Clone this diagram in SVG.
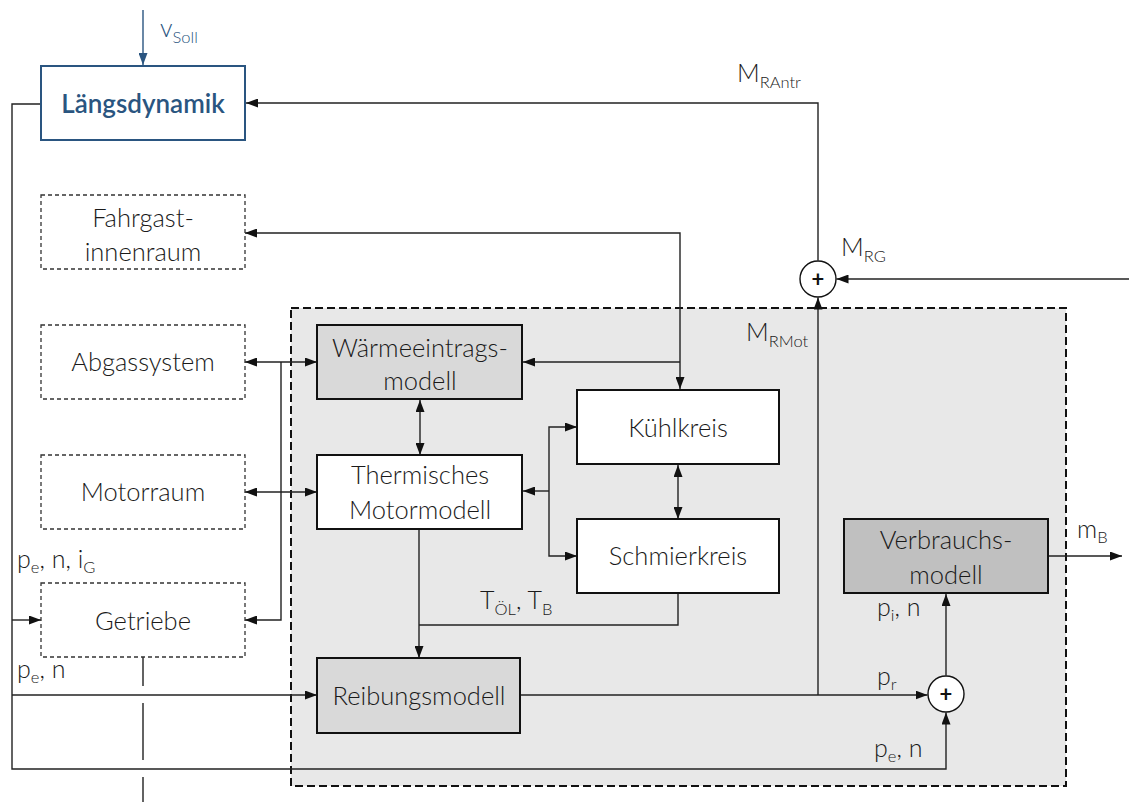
<svg xmlns="http://www.w3.org/2000/svg" width="1129" height="802" viewBox="0 0 1129 802">
<defs>
<marker id="ah" markerUnits="userSpaceOnUse" markerWidth="13" markerHeight="9" refX="12" refY="4.5" orient="auto-start-reverse" viewBox="0 0 13 9"><path d="M0,0 L12,4.5 L0,9 z" fill="#111"/></marker>
<marker id="ahb" markerUnits="userSpaceOnUse" markerWidth="13" markerHeight="9" refX="12" refY="4.5" orient="auto-start-reverse" viewBox="0 0 13 9"><path d="M0,0 L12,4.5 L0,9 z" fill="#2a5580"/></marker>
</defs>
<style>
text{font-family:Lato,"Liberation Sans",sans-serif;font-weight:300;fill:#1a1a1a;font-size:25.5px}
.c{text-anchor:middle}
.lab{font-size:25px}
.sub{font-size:16.5px}
.box{stroke:#111;stroke-width:2}
.dbox{fill:#fff;stroke:#333;stroke-width:1.3;stroke-dasharray:4 3}
.ln{fill:none;stroke:#222;stroke-width:1.4}
.a{marker-end:url(#ah)}
.aa{marker-end:url(#ah);marker-start:url(#ah)}
</style>
<rect id="motor-region" x="291" y="308" width="775" height="478" fill="#e8e8e8" stroke="#111" stroke-width="2" stroke-dasharray="8 4"/>

<g id="connectors">
<path class="ln" d="M143,10 V65" style="stroke:#2a5580;marker-end:url(#ahb)"/>
<path class="ln a" d="M41,104 H12 V769 H946 V712.5"/>
<path class="ln a" d="M12,620 H41"/>
<path class="ln a" d="M12,695 H317"/>
<path class="ln aa" d="M245,362 H317"/>
<path class="ln aa" d="M245,492 H317"/>
<path class="ln a" d="M281,362 V620 H245"/>
<path class="ln aa" d="M680,389 V233 H245"/>
<path class="ln a" d="M680,362 H523"/>
<path class="ln aa" d="M420,400 V455"/>
<path class="ln aa" d="M678,465 V519"/>
<path class="ln aa" d="M577,427 H549 V556 H577"/>
<path class="ln a" d="M549,491 H523"/>
<path class="ln a" d="M419,530 V658"/>
<path class="ln" d="M678,594 V625 H419"/>
<path class="ln a" d="M521,695 H927.5"/>
<path class="ln a" d="M818,695 V297.5"/>
<path class="ln a" d="M1129,279 H836.5"/>
<path class="ln a" d="M818,260.5 V103 H246"/>
<path class="ln a" d="M946,675.5 V594"/>
<path class="ln a" d="M1048,556 H1122"/>
<path class="ln" d="M143,657 V686 M143,703 V760 M143,777 V802"/>
</g>

<g id="laengsdynamik">
<rect x="41" y="66" width="204" height="74" fill="#fff" stroke="#2a5580" stroke-width="2"/>
<text class="c" x="143" y="113" style="fill:#2a5580;font-weight:600;font-size:26px">Längsdynamik</text>
</g>
<g id="fahrgastinnenraum">
<rect class="dbox" x="41" y="195" width="204" height="74"/>
<text class="c" x="143" y="227">Fahrgast-</text>
<text class="c" x="143" y="261">innenraum</text>
</g>
<g id="abgassystem">
<rect class="dbox" x="41" y="325" width="204" height="74"/>
<text class="c" x="143" y="371">Abgassystem</text>
</g>
<g id="motorraum">
<rect class="dbox" x="41" y="455" width="204" height="74"/>
<text class="c" x="143" y="501">Motorraum</text>
</g>
<g id="getriebe">
<rect class="dbox" x="41" y="583" width="204" height="74"/>
<text class="c" x="143" y="630">Getriebe</text>
</g>
<g id="waermeeintragsmodell">
<rect class="box" x="317" y="325" width="205" height="74" fill="#d9d9d9"/>
<text class="c" x="420" y="357">Wärmeeintrags-</text>
<text class="c" x="420" y="390">modell</text>
</g>
<g id="thermisches-motormodell">
<rect class="box" x="317" y="455" width="205" height="74" fill="#fff"/>
<text class="c" x="420" y="484">Thermisches</text>
<text class="c" x="420" y="519">Motormodell</text>
</g>
<g id="kuehlkreis">
<rect class="box" x="577" y="390" width="202" height="74" fill="#fff"/>
<text class="c" x="678" y="437">Kühlkreis</text>
</g>
<g id="schmierkreis">
<rect class="box" x="577" y="519" width="202" height="74" fill="#fff"/>
<text class="c" x="678" y="565">Schmierkreis</text>
</g>
<g id="reibungsmodell">
<rect class="box" x="317" y="658" width="203" height="75" fill="#d9d9d9"/>
<text class="c" x="419" y="705">Reibungsmodell</text>
</g>
<g id="verbrauchsmodell">
<rect class="box" x="844" y="519" width="204" height="74" fill="#c0c0c0"/>
<text class="c" x="946" y="549">Verbrauchs-</text>
<text class="c" x="946" y="584">modell</text>
</g>
<g id="sum-top">
<circle cx="818" cy="279" r="18" fill="#fff" stroke="#111" stroke-width="1.4"/>
<text class="c" x="818" y="287" style="font-weight:700;font-size:22px;fill:#111">+</text>
</g>
<g id="sum-bottom">
<circle cx="946" cy="694" r="18" fill="#fff" stroke="#111" stroke-width="1.4"/>
<text class="c" x="946" y="702" style="font-weight:700;font-size:22px;fill:#111">+</text>
</g>

<g id="labels">
<text class="lab" x="160" y="37" style="fill:#2a5580">v<tspan class="sub" dy="6">Soll</tspan></text>
<text class="lab" x="737" y="82">M<tspan class="sub" dy="6">RAntr</tspan></text>
<text class="lab" x="841" y="256">M<tspan class="sub" dy="6">RG</tspan></text>
<text class="lab" x="746" y="341">M<tspan class="sub" dy="6">RMot</tspan></text>
<text class="lab" x="480" y="609">T<tspan class="sub" dy="6">ÖL</tspan><tspan dy="-6">, T</tspan><tspan class="sub" dy="6">B</tspan></text>
<text class="lab" x="17" y="568">p<tspan class="sub" dy="5">e</tspan><tspan dy="-5">, n, i</tspan><tspan class="sub" dy="5">G</tspan></text>
<text class="lab" x="17" y="678">p<tspan class="sub" dy="5">e</tspan><tspan dy="-5">, n</tspan></text>
<text class="lab" x="877" y="616">p<tspan class="sub" dy="5">i</tspan><tspan dy="-5">, n</tspan></text>
<text class="lab" x="877" y="685">p<tspan class="sub" dy="5">r</tspan></text>
<text class="lab" x="874" y="757">p<tspan class="sub" dy="5">e</tspan><tspan dy="-5">, n</tspan></text>
<text class="lab" x="1077" y="538">m<tspan class="sub" dy="5">B</tspan></text>
</g>
</svg>
